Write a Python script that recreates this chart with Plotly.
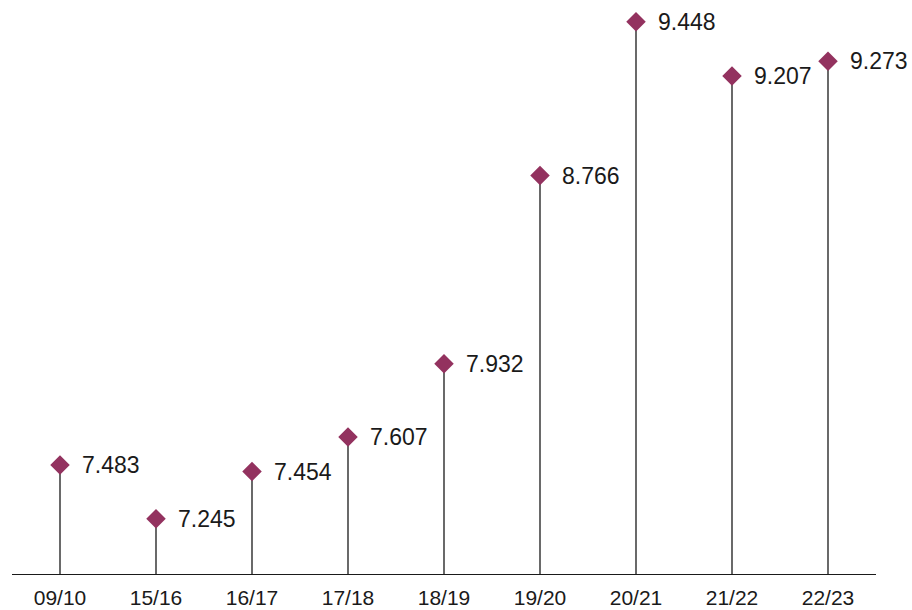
import plotly.graph_objects as go

categories = ["09/10", "15/16", "16/17", "17/18", "18/19", "19/20", "20/21", "21/22", "22/23"]
values = [7.483, 7.245, 7.454, 7.607, 7.932, 8.766, 9.448, 9.207, 9.273]
labels = ["7.483", "7.245", "7.454", "7.607", "7.932", "8.766", "9.448", "9.207", "9.273"]

base = 7.0
marker_color = "#93325F"

stem_x, stem_y = [], []
for c, v in zip(categories, values):
    stem_x += [c, c, None]
    stem_y += [base, v, None]

fig = go.Figure()
fig.add_trace(go.Scatter(x=stem_x, y=stem_y, mode="lines",
                         line=dict(color="#1a1a1a", width=1.3),
                         hoverinfo="skip", showlegend=False))
fig.add_trace(go.Scatter(x=categories, y=values, mode="markers",
                         marker=dict(symbol="diamond", size=15, color=marker_color),
                         cliponaxis=False, showlegend=False))

for c, v, t in zip(categories, values, labels):
    fig.add_annotation(x=c, y=v, text=t, showarrow=False, xanchor="left",
                       yanchor="middle", xshift=20,
                       font=dict(family="Liberation Sans, Arial", size=23, color="#1a1a1a"))

fig.update_layout(
    width=912, height=610,
    margin=dict(l=12, r=36, t=10, b=36, autoexpand=False),
    paper_bgcolor="white", plot_bgcolor="white",
    font=dict(family="Liberation Sans, Arial", size=22, color="#1a1a1a"),
    xaxis=dict(type="category", categoryorder="array", categoryarray=categories,
               range=[-0.5, 8.5], showgrid=False, zeroline=False, automargin=False,
               showline=True, linecolor="#1a1a1a", linewidth=1.3,
               tickfont=dict(size=21),
               ticks="outside", ticklen=5, tickcolor="rgba(0,0,0,0)"),
    yaxis=dict(range=[base, 9.5], visible=False, showgrid=False, zeroline=False,
               automargin=False),
)

fig.write_html("out.html", config={"displayModeBar": False},
               post_script="document.body.style.margin='0';document.body.style.overflow='hidden';")
